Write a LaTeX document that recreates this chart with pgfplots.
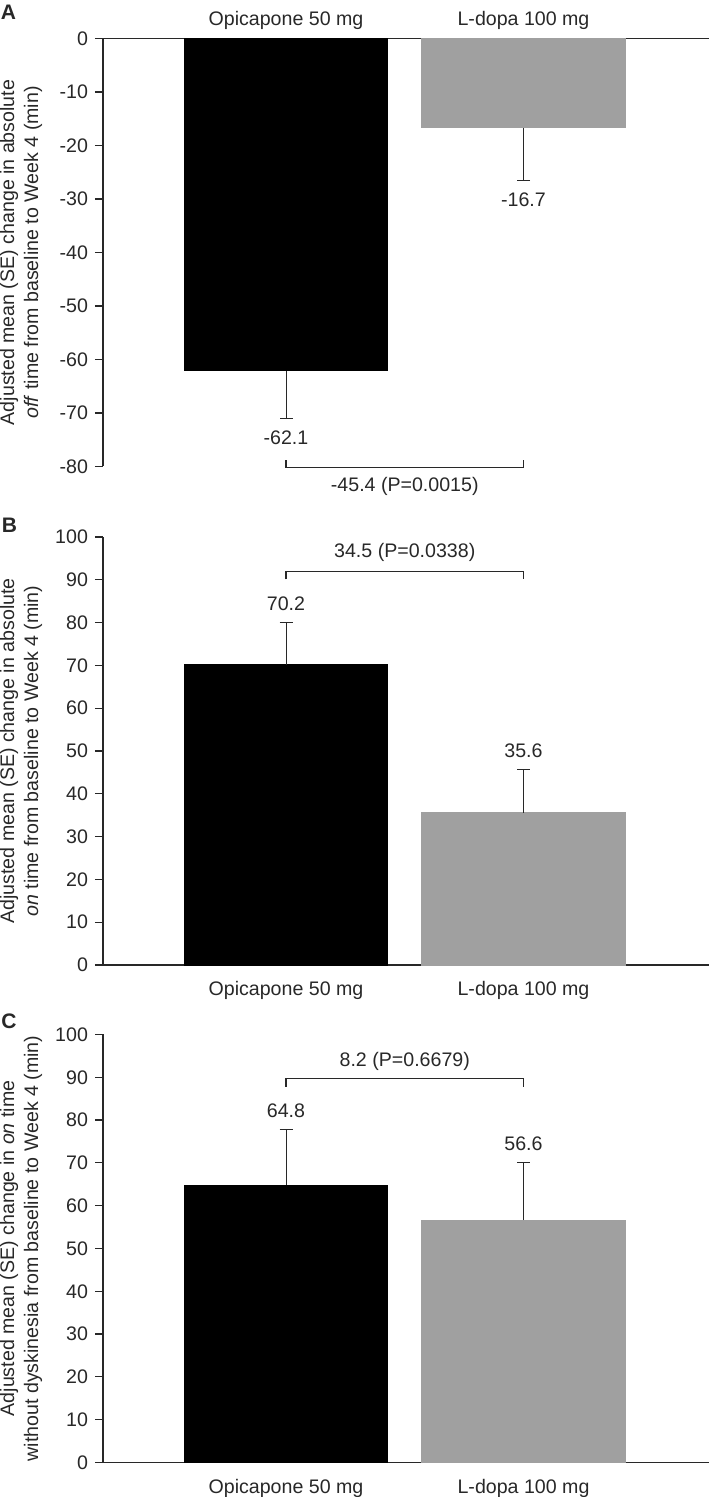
\documentclass[border=0pt]{standalone}
\usepackage{pgfplots}
\pgfplotsset{compat=1.18}
\usepackage{fontspec}
\setmainfont{Liberation Sans}
\definecolor{bargrey}{RGB}{160,160,160}
\definecolor{ink}{RGB}{40,40,40}
\newcommand{\lbl}{\fontsize{9.8}{12}\selectfont}

\pgfplotsset{
  panel/.style={
    scale only axis, width=303pt, height=214pt,
    xmin=0.2295, xmax=2.781,
    xtick={1,2}, xticklabels={Opicapone 50 mg, L-dopa 100 mg},
    xtick style={draw=none},
    ytick align=outside, ytick pos=left,
    major tick length=4pt,
    axis line style={-, draw=ink, line width=0.6pt},
    tick style={draw=ink, line width=0.6pt},
    tick label style={font=\lbl, text=ink},
    /pgf/number format/assume math mode=true,
    ybar, bar width=0.857, bar shift=0pt,
    clip=false,
    ylabel style={at={(axis description cs:-0.1353,0.5)}, anchor=center,
      align=center, font=\lbl, text=ink},
    error bars/y explicit,
    error bars/error bar style={draw=ink, line width=0.5pt},
    error bars/error mark options={rotate=90, mark size=3.25pt, draw=ink, line width=0.5pt},
  },
}
\tikzset{
  note/.style={font=\lbl, text=ink},
  bracket/.style={draw=ink, line width=0.6pt},
  panlbl/.style={font=\fontsize{10.5}{12}\selectfont\bfseries, text=ink},
}

\begin{document}
\begin{tikzpicture}
\path[use as bounding box] (0,0) rectangle (354.5pt,748.5pt);

% panel A: off time
\begin{axis}[panel, at={(51.5pt,515.25pt)}, anchor=south west,
  axis x line*=top, axis y line*=left,
  ymin=-80, ymax=0, ytick={-80,-70,...,0},
  xticklabel style={anchor=center, yshift=5.25pt},
  ylabel={Adjusted mean (SE) change in absolute\\\textit{off} time from baseline to Week 4 (min)}]
\addplot[fill=black, draw=black, error bars/y dir=minus] coordinates {(1,-62.1) +- (0,8.9)};
\addplot[fill=bargrey, draw=bargrey, error bars/y dir=minus] coordinates {(2,-16.7) +- (0,9.9)};
\node[note] at (axis cs:1,-74.6) {-62.1};
\node[note] at (axis cs:2,-30.2) {-16.7};
\draw[bracket] (axis cs:1,-78.8) -- (axis cs:1,-80.2) -- (axis cs:2,-80.2) -- (axis cs:2,-78.8);
\node[note] at (axis cs:1.5,-83.7) {-45.4 (P=0.0015)};
\end{axis}

% panel B: on time
\begin{axis}[panel, at={(51.5pt,266pt)}, anchor=south west,
  axis x line*=bottom, axis y line*=left,
  ymin=0, ymax=100, ytick={0,10,...,100},
  xticklabel style={anchor=center, yshift=-8.75pt},
  ylabel={Adjusted mean (SE) change in absolute\\\textit{on} time from baseline to Week 4 (min)}]
\addplot[fill=black, draw=black, error bars/y dir=plus] coordinates {(1,70.2) +- (0,9.9)};
\addplot[fill=bargrey, draw=bargrey, error bars/y dir=plus] coordinates {(2,35.6) +- (0,10.0)};
\node[note] at (axis cs:1,84.5) {70.2};
\node[note] at (axis cs:2,50.0) {35.6};
\draw[bracket] (axis cs:1,90.1) -- (axis cs:1,91.9) -- (axis cs:2,91.9) -- (axis cs:2,90.1);
\node[note] at (axis cs:1.5,96.4) {34.5 (P=0.0338)};
\end{axis}

% panel C: on time without dyskinesia
\begin{axis}[panel, at={(51.5pt,17.25pt)}, anchor=south west,
  axis x line*=bottom, axis y line*=left,
  ymin=0, ymax=100, ytick={0,10,...,100},
  xticklabel style={anchor=center, yshift=-9pt},
  ylabel={Adjusted mean (SE) change in \textit{on} time\\without dyskinesia from baseline to Week 4 (min)}]
\addplot[fill=black, draw=black, error bars/y dir=plus] coordinates {(1,64.8) +- (0,13.1)};
\addplot[fill=bargrey, draw=bargrey, error bars/y dir=plus] coordinates {(2,56.6) +- (0,13.4)};
\node[note] at (axis cs:1,82.2) {64.8};
\node[note] at (axis cs:2,74.4) {56.6};
\draw[bracket] (axis cs:1,87.8) -- (axis cs:1,89.8) -- (axis cs:2,89.8) -- (axis cs:2,87.8);
\node[note] at (axis cs:1.5,93.6) {8.2 (P=0.6679)};
\end{axis}

\node[panlbl] at (4.25pt,742.25pt) {A};
\node[panlbl] at (4.75pt,486pt) {B};
\node[panlbl] at (4.5pt,237.65pt) {C};
\end{tikzpicture}
\end{document}
